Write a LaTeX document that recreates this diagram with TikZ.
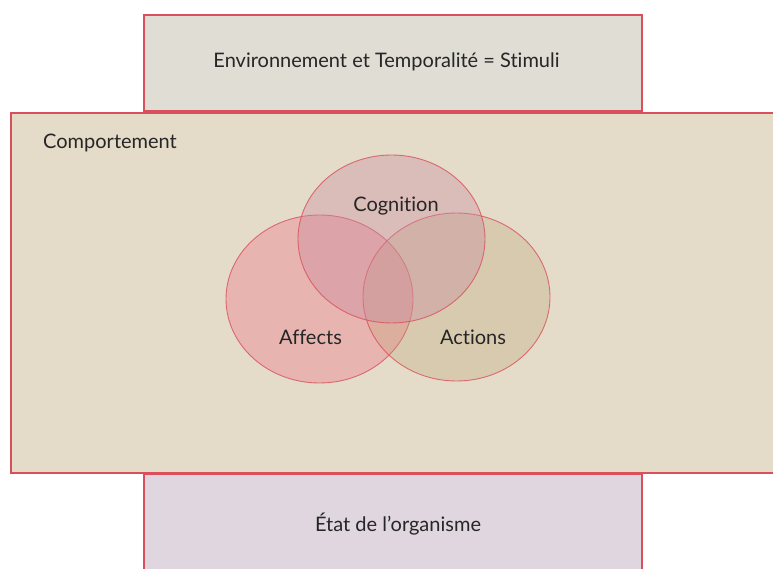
\documentclass[tikz,border=0pt]{standalone}
\usepackage{fontspec}
\setmainfont[RawFeature={-liga;-dlig}]{Lato}
\definecolor{edge}{HTML}{D9505C}
\definecolor{topfill}{HTML}{E0DDD5}
\definecolor{mainfill}{HTML}{E4DCC8}
\definecolor{botfill}{HTML}{E0D6DF}
\definecolor{affc}{HTML}{EE7A8A}
\definecolor{cogc}{HTML}{CB8CA2}
\definecolor{actc}{HTML}{BFA378}
\tikzset{
  box/.style={draw=edge, line width=1.5pt},
  venn/.style={draw=edge, line width=0.9pt, draw opacity=0.8},
  lbl/.style={font=\fontsize{20}{24}\selectfont, text=black!85, inner sep=0pt, anchor=base}
}
\begin{document}
\begin{tikzpicture}[x=1pt,y=1pt]
\useasboundingbox (0,0) rectangle (773,568);
\fill[white] (0,0) rectangle (773,568);
% top box
\path[box, fill=topfill] (144,457) rectangle (642,553);
% bottom box
\path[box, fill=botfill] (144,-5) rectangle (642,94);
% main box
\path[box, fill=mainfill] (11,95) rectangle (780,455);
% venn
\path[venn, fill=affc, fill opacity=0.4] (319.5,269) ellipse [x radius=93.5, y radius=84];
\path[venn, fill=actc, fill opacity=0.3] (456.5,271) ellipse [x radius=93.5, y radius=84];
\path[venn, fill=cogc, fill opacity=0.4] (391.5,329) ellipse [x radius=93.5, y radius=84];
% labels
\node[lbl] (env) at (386.5,500.5) {Environnement et Temporalité = Stimuli};
\node[lbl, anchor=base west] (comp) at (43,419.7) {Comportement};
\node[lbl] (cog) at (396,356.3) {Cognition};
\node[lbl] (aff) at (310.5,223) {Affects};
\node[lbl] (act) at (473,223) {Actions};
\node[lbl] (etat) at (398,37) {État de l’organisme};
\end{tikzpicture}
\end{document}
